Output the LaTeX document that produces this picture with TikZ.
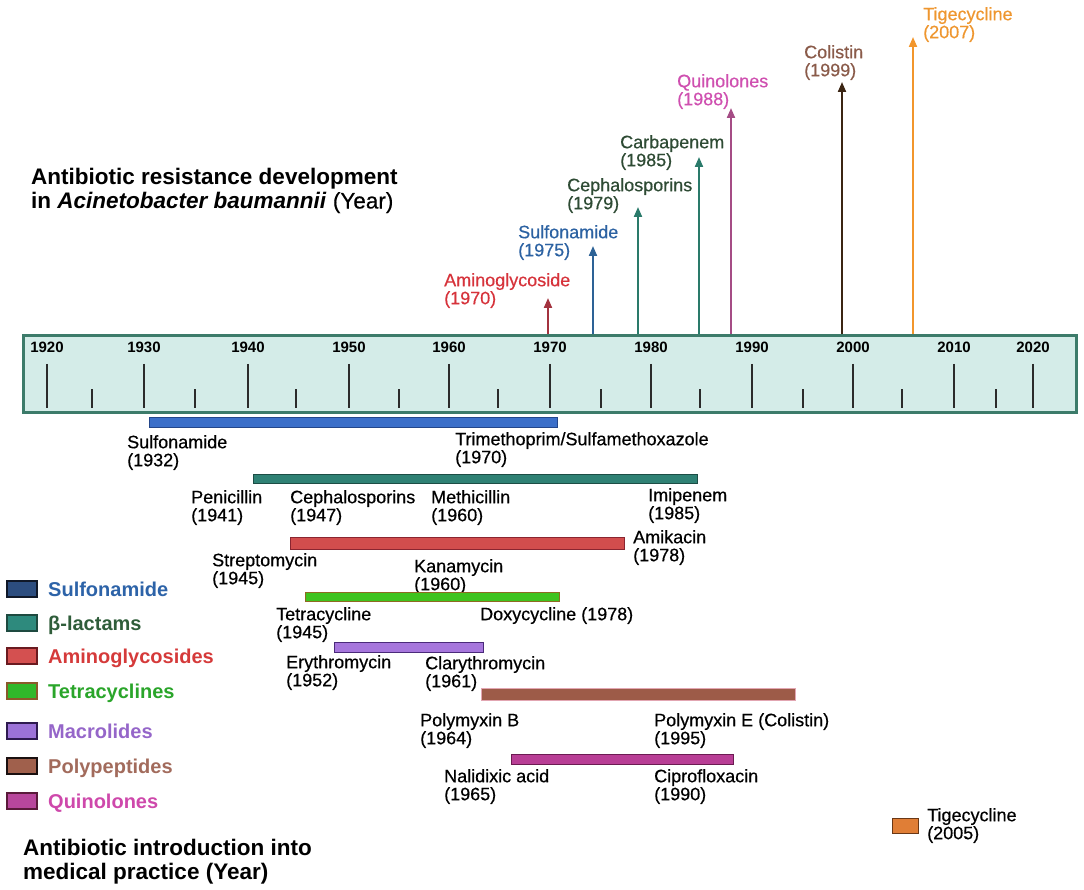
\documentclass[tikz,border=0pt]{standalone}
\usepackage{fontspec}
\setmainfont{Liberation Sans}
\newfontface\medfont{Liberation Sans}[FakeBold=0.5]
\usetikzlibrary{arrows.meta}

\definecolor{bandfill}{HTML}{D4ECE8}
\definecolor{bandline}{HTML}{3C7B6A}
\definecolor{tickc}{HTML}{2B2B2B}
\definecolor{amiT}{HTML}{D6333B}
\definecolor{sulT}{HTML}{2C62A2}
\definecolor{betT}{HTML}{2E4B34}
\definecolor{quiT}{HTML}{CF50B0}
\definecolor{colT}{HTML}{8A5B4A}
\definecolor{tigT}{HTML}{EE962F}
\definecolor{amiA}{HTML}{A3333F}
\definecolor{sulA}{HTML}{2D6296}
\definecolor{betA}{HTML}{2A7A6A}
\definecolor{quiA}{HTML}{A54C85}
\definecolor{colA}{HTML}{3B2513}
\definecolor{tigA}{HTML}{F2962C}

\tikzset{
  title/.style={anchor=north west,inner sep=0pt,align=left,
    font=\fontsize{22.5}{24}\selectfont\bfseries},
  lbl/.style={anchor=north west,inner sep=0pt,align=left,
    font=\fontsize{18}{18}\selectfont\medfont},
  yrlbl/.style={inner sep=0pt,font=\fontsize{15}{15}\selectfont\bfseries},
  tick/.style={tickc,line width=2.5pt},
  res/.style={line width=2pt,-{Triangle[length=10pt,width=8pt]}},
  bar/.style={line width=1pt},
  key/.style={line width=1.5pt},
  keylbl/.style={anchor=base west,inner sep=0pt,
    font=\fontsize{20}{20}\selectfont\bfseries},
}

\begin{document}
\begin{tikzpicture}[x=1pt,y=-1pt]
  \useasboundingbox (0,0) rectangle (1084,890);

  \node[title] (restitle) at (31,168)
    {Antibiotic resistance development\\
     in \textit{Acinetobacter baumannii} {\medfont(Year)}};

  \node[draw=bandline,fill=bandfill,line width=3pt,inner sep=0pt,
        minimum width=1053pt,minimum height=77pt,anchor=north west]
        (band) at (22,334) {};
  \foreach \yr/\x in {1920/47,1930/144,1940/248,1950/349,1960/449,1970/550,
                      1980/651,1990/752,2000/853,2010/954,2020/1033} {
    \draw[tick] (\x,364) -- (\x,408);
    \node[yrlbl] (y\yr) at (\x,347) {\yr};
  }
  \foreach \x in {92,195,296,399,498,601,700,803,902,996}
    \draw[tick] (\x,389) -- (\x,408);

  \foreach \nm/\ax/\ay/\ac in {ami/548/298/amiA,sul/593/246/sulA,cep/638/207/betA,
                              car/699/157/betA,qui/731/108/quiA,col/842/82/colA,
                              tig/913/37/tigA} {
    \coordinate (t\nm) at (\ax,\ay);
    \draw[res,\ac] (band.north -| t\nm) -- (t\nm);
  }
  \node[lbl,amiT] (ami) at (444,273) {Aminoglycoside\\(1970)};
  \node[lbl,sulT] (sul) at (518,225) {Sulfonamide\\(1975)};
  \node[lbl,betT] (cep) at (567,178) {Cephalosporins\\(1979)};
  \node[lbl,betT] (car) at (620,135) {Carbapenem\\(1985)};
  \node[lbl,quiT] (qui) at (677,74) {Quinolones\\(1988)};
  \node[lbl,colT] (col) at (804,45) {Colistin\\(1999)};
  \node[lbl,tigT] (tig) at (923,7) {Tigecycline\\(2007)};

  \draw[bar,fill={rgb,255:red,59;green,111;blue,201},draw={rgb,255:red,35;green,70;blue,138}]
    (149,417) rectangle (557,427);
  \node[lbl] (sulfa) at (127,435) {Sulfonamide\\(1932)};
  \node[lbl] (trim) at (455,432) {Trimethoprim/Sulfamethoxazole\\(1970)};

  \draw[bar,fill={rgb,255:red,47;green,129;blue,116},draw={rgb,255:red,28;green,77;blue,69}]
    (253,474) rectangle (697,483);
  \node[lbl] (peni) at (191,490) {Penicillin\\(1941)};
  \node[lbl] (ceph) at (290,490) {Cephalosporins\\(1947)};
  \node[lbl] (meth) at (431,490) {Methicillin\\(1960)};
  \node[lbl] (imip) at (648,488) {Imipenem\\(1985)};

  \draw[bar,fill={rgb,255:red,210;green,77;blue,77},draw={rgb,255:red,138;green,37;blue,48}]
    (290,537) rectangle (624,549);
  \node[lbl] (strep) at (212,553) {Streptomycin\\(1945)};
  \node[lbl] (kana) at (414,559) {Kanamycin\\(1960)};
  \node[lbl] (amik) at (633,530) {Amikacin\\(1978)};

  \draw[bar,fill={rgb,255:red,63;green,195;blue,31},draw={rgb,255:red,142;green,106;blue,34}]
    (305,592) rectangle (559,601);
  \node[lbl] (tetra) at (276,607) {Tetracycline\\(1945)};
  \node[lbl] (doxy) at (480,607) {Doxycycline (1978)};

  \draw[bar,fill={rgb,255:red,166;green,118;blue,220},draw={rgb,255:red,74;green,42;blue,122}]
    (334,642) rectangle (483,652);
  \node[lbl] (eryt) at (286,655) {Erythromycin\\(1952)};
  \node[lbl] (clar) at (425,656) {Clarythromycin\\(1961)};

  \draw[bar,fill={rgb,255:red,157;green,91;blue,72},draw={rgb,255:red,226;green,166;blue,178}]
    (481,688) rectangle (795,700);
  \node[lbl] (polyb) at (420,713) {Polymyxin B\\(1964)};
  \node[lbl] (polye) at (654,713) {Polymyxin E (Colistin)\\(1995)};

  \draw[bar,fill={rgb,255:red,184;green,62;blue,149},draw={rgb,255:red,108;green,27;blue,82}]
    (511,754) rectangle (733,764);
  \node[lbl] (nali) at (444,769) {Nalidixic acid\\(1965)};
  \node[lbl] (cipro) at (654,769) {Ciprofloxacin\\(1990)};

  \draw[bar,fill={rgb,255:red,224;green,126;blue,54},draw={rgb,255:red,106;green,56;blue,22}]
    (892,818) rectangle (918,833);
  \node[lbl] (tige) at (927,808) {Tigecycline\\(2005)};

  \foreach \yc/\kf/\kd/\kt/\txt in {
      589/2C4D7F/101828/2D63A8/Sulfonamide,
      623/2E8A7D/1E4A40/2F5D3A/β-lactams,
      656/D45050/6A1A20/D53A3A/Aminoglycosides,
      691/30B82A/8A5A2A/2AA52A/Tetracyclines,
      731/9C72D8/2E1A50/9566C9/Macrolides,
      766/A0604C/1A1010/A26B5C/Polypeptides,
      801/B8469C/5A1A3A/CE48AB/Quinolones} {
    \definecolor{kf}{HTML}{\kf}\definecolor{kd}{HTML}{\kd}\definecolor{kt}{HTML}{\kt}
    \draw[key,fill=kf,draw=kd] (7,\yc-8) rectangle (37,\yc+8);
    \node[keylbl,kt] (k\yc) at (48,\yc+7) {\txt};
  }

  \node[title] (inttitle) at (23,839)
    {Antibiotic introduction into\\medical practice (Year)};
\end{tikzpicture}
\end{document}
